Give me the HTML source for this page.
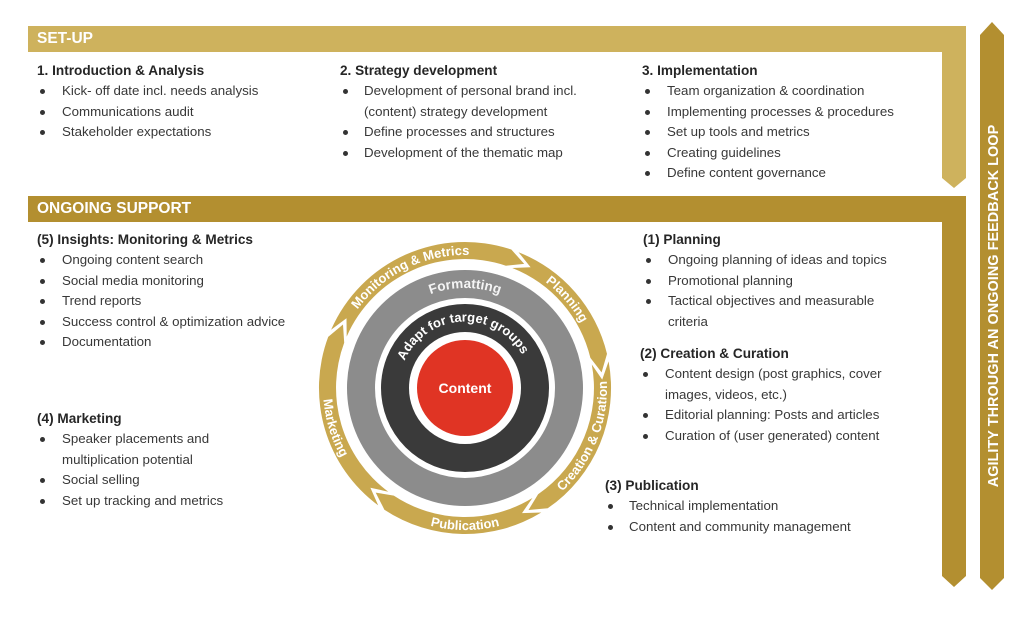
<!DOCTYPE html>
<html><head><meta charset="utf-8">
<style>
body{margin:0;width:1030px;height:617px;background:#fff;position:relative;overflow:hidden;font-family:"Liberation Sans",sans-serif;color:#383838}
.bar{position:absolute;color:#fff;font-weight:bold;font-size:15.5px;line-height:26px;padding-left:9px;box-sizing:border-box}
.blk{position:absolute;font-size:13.3px;line-height:20.4px;white-space:nowrap}
.blk .h{font-weight:bold;color:#262626;font-size:13.6px}
.blk .i{position:relative;padding-left:var(--p)}
.blk .i.d::before{content:"";position:absolute;left:var(--bx);top:8px;width:5px;height:5px;border-radius:50%;background:#333}
svg{position:absolute;left:0;top:0}
</style></head><body>
<svg width="1030" height="617" id="s">
 <polygon points="28,26 966,26 966,178 954,188 942,178 942,52 28,52" fill="#ceb25d"/>
 <polygon points="28,196 966,196 966,576 954,587 942,576 942,222 28,222" fill="#b38f30"/>
 <polygon points="980,35 992,22 1004,35 1004,578 992,590 980,578" fill="#b38f30"/>
 <text transform="translate(998,306) rotate(-90)" text-anchor="middle" fill="#fff" font-weight="bold" font-size="14.5" font-family="Liberation Sans">AGILITY THROUGH AN ONGOING FEEDBACK LOOP</text>
 <g id="c"></g>
</svg>
<div class="bar" style="left:28px;top:26px;width:300px">SET-UP</div>
<div class="bar" style="left:28px;top:196px;width:300px">ONGOING SUPPORT</div>

<div class="blk" style="left:37px;top:61px;--p:25px;--bx:3px">
<div class="h">1. Introduction &amp; Analysis</div>
<div class="i d">Kick- off date incl. needs analysis</div>
<div class="i d">Communications audit</div>
<div class="i d">Stakeholder expectations</div></div>

<div class="blk" style="left:340px;top:61px;--p:24px;--bx:3px">
<div class="h">2. Strategy development</div>
<div class="i d">Development of personal brand incl.</div>
<div class="i">(content) strategy development</div>
<div class="i d">Define processes and structures</div>
<div class="i d">Development of the thematic map</div></div>

<div class="blk" style="left:642px;top:61px;--p:25px;--bx:3px">
<div class="h">3. Implementation</div>
<div class="i d">Team organization &amp; coordination</div>
<div class="i d">Implementing processes &amp; procedures</div>
<div class="i d">Set up tools and metrics</div>
<div class="i d">Creating guidelines</div>
<div class="i d">Define content governance</div></div>

<div class="blk" style="left:37px;top:230px;--p:25px;--bx:3px">
<div class="h">(5) Insights: Monitoring &amp; Metrics</div>
<div class="i d">Ongoing content search</div>
<div class="i d">Social media monitoring</div>
<div class="i d">Trend reports</div>
<div class="i d">Success control &amp; optimization advice</div>
<div class="i d">Documentation</div></div>

<div class="blk" style="left:37px;top:409px;--p:25px;--bx:3px">
<div class="h">(4) Marketing</div>
<div class="i d">Speaker placements and</div>
<div class="i">multiplication potential</div>
<div class="i d">Social selling</div>
<div class="i d">Set up tracking and metrics</div></div>

<div class="blk" style="left:643px;top:230px;--p:25px;--bx:3px">
<div class="h">(1) Planning</div>
<div class="i d">Ongoing planning of ideas and topics</div>
<div class="i d">Promotional planning</div>
<div class="i d">Tactical objectives and measurable</div>
<div class="i">criteria</div></div>

<div class="blk" style="left:640px;top:344px;--p:25px;--bx:3px">
<div class="h">(2) Creation &amp; Curation</div>
<div class="i d">Content design (post graphics, cover</div>
<div class="i">images, videos, etc.)</div>
<div class="i d">Editorial planning: Posts and articles</div>
<div class="i d">Curation of (user generated) content</div></div>

<div class="blk" style="left:605px;top:476px;--p:24px;--bx:3px">
<div class="h">(3) Publication</div>
<div class="i d">Technical implementation</div>
<div class="i d">Content and community management</div></div>

<script>
(function(){
var cx=465,cy=388,g=document.getElementById('c'),NS='http://www.w3.org/2000/svg';
function P(r,a){a=a*Math.PI/180;return [(cx+r*Math.sin(a)).toFixed(1),(cy-r*Math.cos(a)).toFixed(1)];}
function el(t,at,txt){var e=document.createElementNS(NS,t);for(var k in at)e.setAttribute(k,at[k]);if(txt)e.textContent=txt;g.appendChild(e);return e;}
el('circle',{cx:cx,cy:cy,r:104,fill:'none',stroke:'#8c8c8c','stroke-width':28});
el('circle',{cx:cx,cy:cy,r:70,fill:'none',stroke:'#3a3a3a','stroke-width':28});
el('circle',{cx:cx,cy:cy,r:48,fill:'#e03424'});
var R=146,r=129,m=137.5,segs=[[-68,20],[20,78],[78,147],[147,215],[215,292]];
segs.forEach(function(s){
 var a1=s[0]+1.5,a2=s[1]-1.5,d=7;
 var o1=P(R,a1),o2=P(R,a2),t=P(m,a2+d),i2=P(r,a2),i1=P(r,a1),n=P(m,a1+d);
 var dd='M'+o1+' A'+R+' '+R+' 0 0 1 '+o2+' L'+t+' L'+i2+' A'+r+' '+r+' 0 0 0 '+i1+' L'+n+' Z';
 el('path',{d:dd,fill:'#c9a84f'});
});
var id=0;
function arcText(txt,rad,ac,span,cw,fs,fill){
 id++;var a1,a2,d;
 if(cw){a1=ac-span;a2=ac+span;var p1=P(rad,a1),p2=P(rad,a2);d='M'+p1+' A'+rad+' '+rad+' 0 0 1 '+p2;}
 else{a1=ac+span;a2=ac-span;var p1=P(rad,a1),p2=P(rad,a2);d='M'+p1+' A'+rad+' '+rad+' 0 0 0 '+p2;}
 var p=el('path',{id:'tp'+id,d:d,fill:'none'});
 var t=el('text',{fill:fill||'#fff','font-size':fs,'font-weight':'bold','font-family':'Liberation Sans','text-anchor':'middle'});
 var tp=document.createElementNS(NS,'textPath');tp.setAttribute('href','#tp'+id);tp.setAttribute('startOffset','50%');tp.textContent=txt;t.appendChild(tp);
}
arcText('Monitoring & Metrics',133,-26,60,true,13);
arcText('Planning',133,49,40,true,13);
arcText('Creation & Curation',142,112,60,false,13);
arcText('Publication',142,180,40,false,13);
arcText('Marketing',142,253,40,false,13);
arcText('Formatting',100,0,40,true,13.5,'#f4f4f4');
arcText('Adapt for target groups',66,-3,85,true,13);
el('text',{x:cx,y:cy+5,fill:'#fff','font-size':14,'font-weight':'bold','font-family':'Liberation Sans','text-anchor':'middle'},'Content');
})();
</script>
</body></html>
